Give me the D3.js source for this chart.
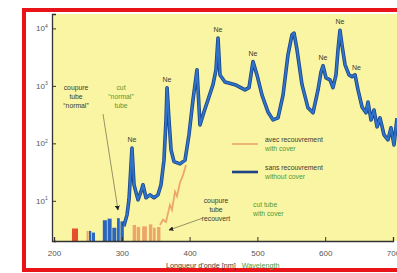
<!DOCTYPE html>
<html>
<head>
<meta charset="utf-8">
<title>Spectre tube</title>
<style>
  body { margin: 0; background: #fff; }
  svg { display: block; font-family: "Liberation Sans", Arial, sans-serif; }
</style>
</head>
<body>
<svg width="397" height="273"></svg>
<script src="https://cdn.jsdelivr.net/npm/d3@7"></script>
<script>
// wavelength (nm), intensity
var blueLine = [
  [303, 3.6], [307.7, 5.7], [310.6, 10.4], [315, 83], [318, 19], [323.9, 10.4], [328.3, 14.4],
  [331.3, 19], [335.7, 11.3], [341.6, 12.7], [347.5, 11.3], [353.4, 12.7], [357.8, 19],
  [362.2, 51], [365.2, 256], [366.7, 930], [369.6, 256], [372.6, 77], [377, 48], [385.8, 44],
  [393.2, 51], [399.1, 141], [405, 570], [410.9, 1900], [415.3, 209], [421.2, 352],
  [427.1, 570], [434.5, 1050], [438.9, 1900], [441.9, 6760], [444.8, 1550], [452.2, 1170],
  [467, 1050], [481.7, 850], [487.6, 930], [493.5, 2640], [499.4, 1550], [506.8, 690],
  [515.6, 352], [523, 256], [530.4, 277], [537.8, 690], [545.1, 3470], [551, 7700],
  [554, 8300], [558.4, 4270], [565.8, 1050], [574.6, 415], [582, 340], [589.4, 850],
  [593.8, 1740], [596.8, 2240], [601.2, 1380], [607.1, 1270], [611.5, 930], [615.9, 1550],
  [618.9, 4270], [621.8, 9300], [624.8, 5100], [629.2, 2350], [635.1, 1550], [639.5, 1450],
  [644, 1550], [648.4, 850], [654.3, 430], [660.2, 340], [663.1, 525], [667.6, 256],
  [672, 380], [676.4, 194], [680.8, 277], [686.7, 141], [692.6, 115], [697, 186],
  [701.5, 94], [705.9, 275]
];
var orangeLine = [
  [356.3, 3.8], [360.8, 4.7], [365.2, 4.3], [371, 8.5], [374, 7], [378.5, 14.4],
  [381.4, 12], [385.8, 20.6], [390.3, 28], [394.7, 42]
];
// noise blocks near the floor: [from, to, intensity]
var blueBlocks = [[251.6, 255, 3.0], [256, 260.5, 2.8], [272, 278, 4.6], [279, 285, 4.9],
  [286, 292, 3.4], [293, 297, 5.0], [298, 303, 4.4]];
var orangeBlocks = [[248, 251, 3.0], [316, 321, 3.8], [322, 327, 3.5], [330, 337, 3.6],
  [340, 345, 3.9], [346, 350, 3.4], [352, 357, 3.5]];
var redBlocks = [[226.5, 235.4, 3.3]];

var neLabels = [[315, 83], [366.7, 930], [441.9, 6760], [493.5, 2640], [596.8, 2240], [621.8, 9300], [646, 1500]];
var xTicks = [200, 300, 400, 500, 600, 700];
var yTicks = [10, 100, 1000, 10000];

var svg = d3.select("svg");
var x = d3.scaleLinear().domain([200, 700]).range([54, 393]);
var y = d3.scaleLog().domain([2, 17800]).range([241, 14]);

// frame
svg.append("rect").attr("x", 24).attr("y", 10).attr("width", 390).attr("height", 260)
  .attr("fill", "#fff").attr("stroke", "#e8141a").attr("stroke-width", 4);
svg.append("rect").attr("x", 53).attr("y", 14).attr("width", 350).attr("height", 227)
  .attr("fill", "#faf5a2");

// floor blocks
function blocks(data, color) {
  svg.append("g").selectAll("rect").data(data).enter().append("rect")
    .attr("x", function(d) { return x(d[0]); })
    .attr("width", function(d) { return x(d[1]) - x(d[0]); })
    .attr("y", function(d) { return y(d[2]); })
    .attr("height", function(d) { return y(2) - y(d[2]); })
    .attr("fill", color);
}
blocks(redBlocks, "#e4502c");
blocks(orangeBlocks, "#eda66a");
blocks(blueBlocks, "#2a66c0");

var line = d3.line().x(function(d) { return x(d[0]); }).y(function(d) { return y(d[1]); });

svg.append("path").datum(orangeLine).attr("d", line)
  .attr("fill", "none").attr("stroke", "#eda66a").attr("stroke-width", 1.8);

svg.append("path").datum(blueLine).attr("d", line)
  .attr("fill", "none").attr("stroke", "#1d4583").attr("stroke-width", 3.6).attr("stroke-linejoin", "round");
svg.append("path").datum(blueLine).attr("d", line)
  .attr("fill", "none").attr("stroke", "#2f74cc").attr("stroke-width", 2).attr("stroke-linejoin", "round");

// axes
var gx = svg.append("g").attr("transform", "translate(0,241)");
gx.call(d3.axisBottom(x).tickValues(d3.range(200, 710, 10)).tickSize(-2).tickFormat(""));
gx.call(d3.axisBottom(x).tickValues(xTicks).tickSize(-4).tickPadding(9).tickFormat(d3.format("d")));
gx.select(".domain").attr("stroke", "#333").attr("stroke-width", 1.3);
gx.selectAll("line").attr("stroke", "#333");
gx.selectAll("text").attr("font-size", 8).attr("fill", "#555");

var minors = [];
[1, 10, 100, 1000].forEach(function(p) { for (var k = 2; k < 10; k++) if (p * k >= 2) minors.push(p * k); });
var gy = svg.append("g").attr("transform", "translate(52,0)");
gy.call(d3.axisLeft(y).tickValues(minors).tickSize(-2).tickFormat(""));
gy.call(d3.axisLeft(y).tickValues(yTicks).tickSize(-4).tickFormat(""));
gy.select(".domain").attr("stroke", "#333").attr("stroke-width", 1.3);
gy.selectAll("line").attr("stroke", "#333");

var yl = svg.append("g").selectAll("text").data(yTicks).enter().append("text")
  .attr("x", 36).attr("y", function(d) { return y(d) + 3; })
  .attr("font-size", 8).attr("fill", "#555");
yl.append("tspan").text("10");
yl.append("tspan").attr("font-size", 5).attr("dy", -3.5).text(function(d) { return Math.round(Math.log10(d)); });

// axis title
var xt = svg.append("text").attr("x", 166).attr("y", 268).attr("font-size", 7.2);
xt.append("tspan").attr("fill", "#3b3a30").text("Longueur d'onde [nm]");
xt.append("tspan").attr("fill", "#4c9a3c").attr("dx", 6).text("Wavelength");

// Ne labels
svg.append("g").selectAll("text").data(neLabels).enter().append("text")
  .attr("x", function(d) { return x(d[0]); })
  .attr("y", function(d) { return y(d[1]) - 6; })
  .attr("text-anchor", "middle").attr("font-size", 7).attr("fill", "#3b3a30").text("Ne");

// annotations
function block(lines, cx, cy, color, anchor) {
  var t = svg.append("text").attr("font-size", 6.8).attr("fill", color).attr("text-anchor", anchor || "middle");
  lines.forEach(function(s, i) {
    t.append("tspan").attr("x", cx).attr("y", cy + i * 9).text(s);
  });
}
block(["coupure", "tube", "\u201cnormal\u201d"], 76, 90, "#3b3a30");
block(["cut", "\u201cnormal\u201d", "tube"], 121, 90, "#4c9a3c");
block(["coupure", "tube", "recouvert"], 216, 203, "#3b3a30");
block(["cut tube", "with cover"], 253, 207, "#4c9a3c", "start");

svg.append("defs").append("marker").attr("id", "ah").attr("viewBox", "0 0 10 10")
  .attr("refX", 9).attr("refY", 5).attr("markerWidth", 6).attr("markerHeight", 6).attr("orient", "auto")
  .append("path").attr("d", "M0,0L10,5L0,10z").attr("fill", "#222");
svg.append("line").attr("x1", 103).attr("y1", 114).attr("x2", 118).attr("y2", 210)
  .attr("stroke", "#7a7a55").attr("stroke-width", 0.8).attr("marker-end", "url(#ah)");
svg.append("line").attr("x1", 203).attr("y1", 218).attr("x2", 169).attr("y2", 230)
  .attr("stroke", "#7a7a55").attr("stroke-width", 0.8).attr("marker-end", "url(#ah)");

// legend
svg.append("line").attr("x1", 232).attr("x2", 258).attr("y1", 144).attr("y2", 144)
  .attr("stroke", "#eda66a").attr("stroke-width", 1.6);
svg.append("line").attr("x1", 232).attr("x2", 258).attr("y1", 172).attr("y2", 172)
  .attr("stroke", "#1d4583").attr("stroke-width", 2.6);
block(["avec recouvrement"], 265, 142, "#3b3a30", "start");
block(["with cover"], 265, 151, "#4c9a3c", "start");
block(["sans recouvrement"], 265, 170, "#3b3a30", "start");
block(["without cover"], 265, 179, "#4c9a3c", "start");
</script>
</body>
</html>
